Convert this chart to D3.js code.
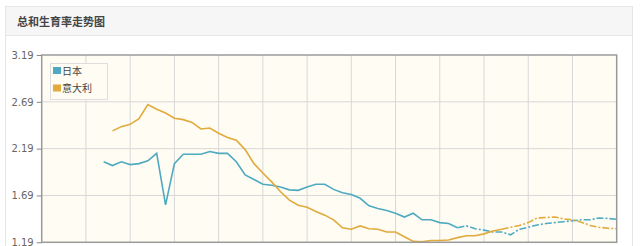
<!DOCTYPE html>
<html>
<head>
<meta charset="utf-8">
<script src="https://cdn.jsdelivr.net/npm/d3@7"></script>
<style>
  body { margin: 0; background: #fff; font-family: "Noto Sans CJK SC", "DejaVu Sans", sans-serif; }
</style>
</head>
<body>
<div id="chart"></div>
<script>
// years on the x axis (no labels visible in the crop)
var yearStart = 1952, yearEnd = 2017;
var japanStart = 1959, italyStart = 1960;
var japanDashFrom = 1999, italyDashFrom = 2004;

var japan = [2.05, 2.01, 2.05, 2.02, 2.03, 2.06, 2.14, 1.59, 2.03, 2.13,
  2.13, 2.13, 2.16, 2.14, 2.14, 2.05, 1.91, 1.86, 1.81, 1.80,
  1.78, 1.75, 1.745, 1.78, 1.81, 1.81, 1.755, 1.72, 1.70, 1.66,
  1.58, 1.55, 1.53, 1.50, 1.46, 1.50, 1.43, 1.43, 1.40, 1.39,
  1.345, 1.365, 1.335, 1.32, 1.30, 1.30, 1.27, 1.33, 1.35, 1.375,
  1.39, 1.40, 1.41, 1.42, 1.43, 1.43, 1.45, 1.445, 1.435];

var italy = [2.38, 2.425, 2.45, 2.51, 2.66, 2.61, 2.57, 2.515, 2.50, 2.47,
  2.40, 2.41, 2.355, 2.31, 2.28, 2.18, 2.03, 1.93, 1.835, 1.73,
  1.64, 1.585, 1.565, 1.52, 1.48, 1.43, 1.345, 1.33, 1.365, 1.335,
  1.33, 1.30, 1.30, 1.25, 1.20, 1.195, 1.21, 1.21, 1.215, 1.24,
  1.26, 1.26, 1.28, 1.31, 1.33, 1.35, 1.37, 1.40, 1.45, 1.455,
  1.46, 1.44, 1.43, 1.405, 1.37, 1.35, 1.34, 1.335];

var yTicks = [1.19, 1.69, 2.19, 2.69, 3.19];
var names = ["日本", "意大利"];
var colors = ["#4eaac1", "#e0aa3c"];

var W = 640, H = 246;
var svg = d3.select("#chart").append("svg")
  .attr("width", W).attr("height", H);

// card + title bar
svg.append("rect").attr("x", 5.5).attr("y", 6.5).attr("width", 627).attr("height", 260)
  .attr("fill", "#fff").attr("stroke", "#e6e6e6");
svg.append("rect").attr("x", 6).attr("y", 7).attr("width", 626).attr("height", 28)
  .attr("fill", "#f6f6f6");
svg.append("line").attr("x1", 6).attr("x2", 632).attr("y1", 35.5).attr("y2", 35.5)
  .attr("stroke", "#e6e6e6");
svg.append("text").attr("x", 17).attr("y", 26)
  .attr("font-size", 11).attr("font-weight", "bold").attr("fill", "#444")
  .text("总和生育率走势图");

var x0 = 41.7, x1 = 616.7, yTop = 55, yBot = 242.3;
var x = d3.scaleLinear().domain([yearStart, yearEnd]).range([x0, x1]);
var y = d3.scaleLinear().domain([1.19, 3.19]).range([yBot, yTop]);

var plot = svg.append("g");
plot.append("rect").attr("x", x0).attr("y", yTop).attr("width", x1 - x0).attr("height", yBot - yTop)
  .attr("fill", "#fffcf3");

// vertical grid every 5 years
var xGrid = d3.range(yearStart + 5, yearEnd, 5);
plot.selectAll(".vg").data(xGrid).enter().append("line")
  .attr("x1", d => x(d)).attr("x2", d => x(d))
  .attr("y1", yTop).attr("y2", yBot)
  .attr("stroke", "#d8d8d8");
plot.selectAll(".hg").data(yTicks.slice(1, 4)).enter().append("line")
  .attr("x1", x0).attr("x2", x1)
  .attr("y1", d => y(d)).attr("y2", d => y(d))
  .attr("stroke", "#d8d8d8");

// y axis labels
var yAxis = d3.axisLeft(y).tickValues(yTicks).tickFormat(d3.format(".2f")).tickSize(5);
var ya = svg.append("g").attr("transform", "translate(" + x0 + ",0)").call(yAxis);
ya.select(".domain").remove();
ya.selectAll("line").attr("stroke", "#888");
ya.selectAll("text").attr("fill", "#666").attr("font-size", 10)
  .attr("font-family", "DejaVu Sans, sans-serif");

function series(vals, start) {
  return vals.map((v, i) => ({ year: start + i, v: v }));
}
var line = d3.line().x(d => x(d.year)).y(d => y(d.v));

function drawSeries(vals, start, dashFrom, color) {
  var pts = series(vals, start);
  var solid = pts.filter(d => d.year <= dashFrom);
  var dashed = pts.filter(d => d.year >= dashFrom);
  plot.append("path").datum(solid).attr("d", line)
    .attr("fill", "none").attr("stroke", color).attr("stroke-width", 1.6);
  plot.append("path").datum(dashed).attr("d", line)
    .attr("fill", "none").attr("stroke", color).attr("stroke-width", 1.6)
    .attr("stroke-dasharray", "7,2,2,2");
}
drawSeries(japan, japanStart, japanDashFrom, colors[0]);
drawSeries(italy, italyStart, italyDashFrom, colors[1]);

// frame
plot.append("rect").attr("x", x0).attr("y", yTop).attr("width", x1 - x0).attr("height", yBot - yTop)
  .attr("fill", "none").attr("stroke", "#9a9a9a").attr("stroke-width", 1.5);

// legend
var lg = svg.append("g");
lg.append("rect").attr("x", 50.5).attr("y", 63.5).attr("width", 57).attr("height", 36)
  .attr("fill", "#fffcf3").attr("stroke", "#dedede");
names.forEach(function (n, i) {
  lg.append("rect").attr("x", 53).attr("y", 67 + i * 17.5).attr("width", 8).attr("height", 7)
    .attr("fill", colors[i]);
  lg.append("text").attr("x", 62).attr("y", 74.5 + i * 17.5)
    .attr("font-size", 10).attr("fill", "#444").text(n);
});
</script>
</body>
</html>
